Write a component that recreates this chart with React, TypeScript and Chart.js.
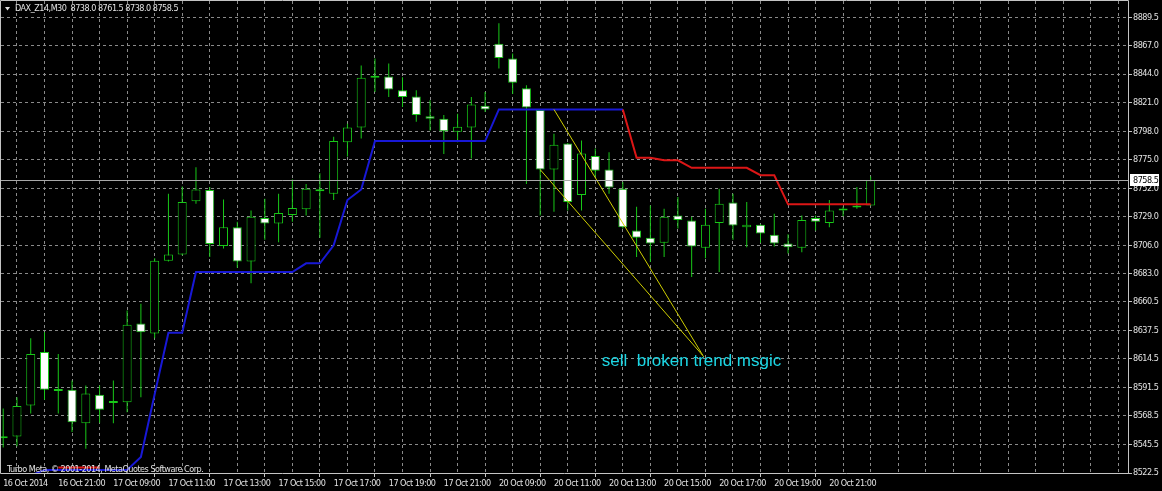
import React, { useEffect, useRef } from "react";
import { Chart, registerables } from "chart.js";

Chart.register(...registerables);

// ---------------- data ----------------
const symbolName = "DAX_Z14,M30";
const lastBarQuote = ["8738.0", "8761.5", "8738.0", "8758.5"];
const copyrightText = "Turbo Meta, © 2001-2014, MetaQuotes Software Corp.";
const noteText = "sell  broken trend msgic";

const opens = [
  8550.5, 8552, 8577, 8620, 8588.5, 8589.5, 8562.5, 8585.5, 8579, 8579.5,
  8643, 8635, 8693.5, 8698.5, 8741.5, 8750.5, 8705.5, 8720.5, 8693, 8728,
  8723.5, 8730.5, 8735, 8751, 8747.5, 8789, 8801, 8841, 8842, 8831,
  8826, 8810, 8808, 8797.5, 8801, 8818.5, 8868.5, 8856.5, 8832.5, 8815,
  8767, 8788, 8746.5, 8778, 8767, 8751.5, 8718, 8712, 8708, 8730,
  8726, 8704, 8724, 8740.5, 8720.5, 8722.5, 8714.5, 8707.5, 8704, 8728,
  8724, 8734, 8736.5, 8738,
];
const highs = [
  8574.5, 8583.5, 8631, 8636, 8618.5, 8597, 8593, 8593, 8597, 8653.5,
  8659, 8695.5, 8747.5, 8753.5, 8769, 8753, 8743, 8725, 8734, 8743.5,
  8747.5, 8759, 8755.5, 8764, 8793.5, 8804, 8851, 8856.5, 8852.5, 8841.5,
  8831, 8823, 8811, 8812, 8825.5, 8829.5, 8885, 8860.5, 8835, 8815.5,
  8796, 8788.5, 8790.5, 8784, 8781, 8757, 8737, 8738, 8735.5, 8745,
  8729, 8735.5, 8751.5, 8747.5, 8741, 8723, 8731.5, 8715, 8730, 8730,
  8742.5, 8737, 8753, 8761.5,
];
const lows = [
  8543, 8544, 8570.5, 8581.5, 8570.5, 8555.5, 8542, 8563, 8562.5, 8571.5,
  8583.5, 8631, 8693, 8698, 8739.5, 8696.5, 8703.5, 8688, 8675.5, 8710.5,
  8708.5, 8725, 8730, 8712, 8742.5, 8777.5, 8792, 8829.5, 8825.5, 8817.5,
  8805.5, 8798.5, 8779.5, 8789, 8776, 8813.5, 8848.5, 8828, 8755.5, 8730,
  8733, 8734, 8734, 8761, 8747.5, 8719.5, 8696.5, 8692.5, 8696.5, 8719.5,
  8680.5, 8695.5, 8684.5, 8710.5, 8704.5, 8708, 8705, 8699.5, 8700.5, 8718,
  8720.5, 8729.5, 8735.5, 8738,
];
const closes = [
  8552, 8576.5, 8618.5, 8589.5, 8589, 8563.5, 8586.5, 8573.5, 8579.5, 8642,
  8636, 8693.5, 8698.5, 8741, 8751, 8707, 8720.5, 8693, 8729, 8723.5,
  8732, 8736, 8751.5, 8749.5, 8790, 8801, 8841, 8841.5, 8831.5, 8825.5,
  8811, 8808, 8798, 8801.5, 8819.5, 8815.5, 8857, 8837, 8817, 8767,
  8787, 8741, 8780, 8766, 8752.5, 8720.5, 8712, 8707.5, 8729, 8726.5,
  8705, 8722.5, 8739.5, 8722, 8722.5, 8715.5, 8707.5, 8704.5, 8726.5, 8725,
  8734, 8735.5, 8738, 8758.5,
];

// trailing-stop indicator: support (blue) and resistance (red) buffers
const supportLine = [
  null, null, 8520.5, 8525, 8525, 8525, 8525, 8525, 8525, 8525,
  8535.5, 8586, 8635.5, 8635.5, 8684.5, 8684.5, 8684.5, 8684.5, 8684.5, 8684.5,
  8684.5, 8684.5, 8691.5, 8691.5, 8706, 8742.5, 8751, 8790, 8790, 8790,
  8790, 8790, 8790, 8790, 8790, 8790, 8815.5, 8815.5, 8815.5, 8815.5,
  8815.5, 8815.5, 8815.5, 8815.5, 8815.5, 8815.5, null, null, null, null,
  null, null, null, null, null, null, null, null, null, null,
  null, null, null, null,
];
const resistanceLine = [
  null, null, null, null, 8527, 8527, 8527, 8527, null, null,
  null, null, null, null, null, null, null, null, null, null,
  null, null, null, null, null, null, null, null, null, null,
  null, null, null, null, null, null, null, null, null, null,
  null, null, null, null, null, 8815.5, 8776.5, 8776.5, 8774.5, 8774.5,
  8768.5, 8768.5, 8768.5, 8768.5, 8768.5, 8762.5, 8762.5, 8739, 8739, 8739,
  8739, 8739, 8739, 8739,
];

const xLabels = [
  "16 Oct 2014", "16 Oct 21:00", "17 Oct 09:00", "17 Oct 11:00", "17 Oct 13:00",
  "17 Oct 15:00", "17 Oct 17:00", "17 Oct 19:00", "17 Oct 21:00", "20 Oct 09:00",
  "20 Oct 11:00", "20 Oct 13:00", "20 Oct 15:00", "20 Oct 17:00", "20 Oct 19:00",
  "20 Oct 21:00",
];
const barsPerLabel = 4;
const barsPerGrid = 2;

const yTickValues = [
  8522.5, 8545.5, 8568.5, 8591.5, 8614.5, 8637.5, 8660.5, 8683.0, 8706.0,
  8729.0, 8752.0, 8775.0, 8798.0, 8821.0, 8844.0, 8867.0, 8889.5,
];
const lastPrice = 8758.5;

// hand-drawn trend lines (bar index, price)
const trendLineA = [
  { x: 40, y: 8815.5 },
  { x: 50.8, y: 8617.5 },
];
const trendLineB = [
  { x: 39, y: 8767 },
  { x: 50.9, y: 8616 },
];
const noteAnchor = { x: 43.47, y: 8608.5 };

// ---------------- styles ----------------
const FONT = "'DejaVu Sans Condensed', 'Liberation Sans', sans-serif";
const SMALL_SPACING = "-0.5px";
const GREEN = "#18c818";
const GRID = "#8a8a8a";
const AXIS = "#c4c4c4";
const TEXT = "#e2e2e2";

const spacingPlugin = {
  id: "spacing",
  beforeDraw(chart: any) {
    const ctx: any = chart.ctx;
    if ("letterSpacing" in ctx) ctx.letterSpacing = SMALL_SPACING;
  },
};

const decorPlugin = {
  id: "decor",
  afterDraw(chart: any) {
    const { chartArea: a, scales } = chart;
    const ctx: any = chart.ctx;
    const xs = scales.x;
    const ys = scales.y;
    ctx.save();
    if ("letterSpacing" in ctx) ctx.letterSpacing = SMALL_SPACING;

    // current price line
    const py = Math.round(ys.getPixelForValue(lastPrice)) + 0.5;
    ctx.strokeStyle = "#a8a8a8";
    ctx.lineWidth = 1;
    ctx.beginPath();
    ctx.moveTo(a.left, py);
    ctx.lineTo(a.right, py);
    ctx.stroke();

    // frame
    ctx.strokeStyle = AXIS;
    ctx.beginPath();
    ctx.moveTo(a.left - 0.5, a.top - 0.5);
    ctx.lineTo(a.right + 0.5, a.top - 0.5);
    ctx.lineTo(a.right + 0.5, a.bottom + 0.5);
    ctx.lineTo(a.left - 0.5, a.bottom + 0.5);
    ctx.closePath();
    ctx.stroke();

    // price label box
    ctx.fillStyle = "#ffffff";
    ctx.fillRect(a.right + 2, py - 6.5, 29, 12);
    ctx.fillStyle = "#000000";
    ctx.font = `9px ${FONT}`;
    ctx.textBaseline = "middle";
    ctx.textAlign = "left";
    ctx.fillText(lastPrice.toFixed(1), a.right + 5, py);

    // header
    ctx.fillStyle = TEXT;
    ctx.beginPath();
    ctx.moveTo(5, 7);
    ctx.lineTo(10, 7);
    ctx.lineTo(7.5, 10.5);
    ctx.closePath();
    ctx.fill();
    ctx.font = `9px ${FONT}`;
    ctx.textBaseline = "middle";
    ctx.fillText(`${symbolName}  ${lastBarQuote.join(" ")}`, 15, 9);

    // footer
    ctx.textBaseline = "alphabetic";
    ctx.fillText(copyrightText, 7, a.bottom - 1);

    // annotation
    if ("letterSpacing" in ctx) ctx.letterSpacing = "0px";
    ctx.fillStyle = "#1cd6e4";
    ctx.font = "17px 'Liberation Sans', Arial, sans-serif";
    ctx.fillText(noteText, xs.getPixelForValue(noteAnchor.x), ys.getPixelForValue(noteAnchor.y));

    ctx.restore();
  },
};

export default function App() {
  const canvasRef = useRef<HTMLCanvasElement | null>(null);

  useEffect(() => {
    const canvas = canvasRef.current;
    if (!canvas) return;

    const wickData = opens.map((_, i) => ({ x: i, y: [lows[i], highs[i]] }));
    const bodyData = opens.map((o, i) => ({ x: i, y: [o, closes[i]] }));
    const bodyFill = opens.map((o, i) => (closes[i] >= o ? "#000000" : "#ffffff"));
    const supportData = supportLine.map((v, i) => ({ x: i, y: v }));
    const resistanceData = resistanceLine.map((v, i) => ({ x: i, y: v }));

    const lastGridBar = 80;
    const gridBars: number[] = [];
    for (let b = 0; b <= lastGridBar; b += barsPerGrid) gridBars.push(b);

    const isLabelled = (v: number) =>
      v % barsPerLabel === 0 && v / barsPerLabel < xLabels.length;

    const chart = new Chart(canvas, {
      type: "line",
      data: {
        datasets: [
          {
            type: "line",
            data: trendLineA as any,
            borderColor: "#cfcf00",
            borderWidth: 1,
            pointRadius: 0,
            order: 0,
          },
          {
            type: "line",
            data: trendLineB as any,
            borderColor: "#cfcf00",
            borderWidth: 1,
            pointRadius: 0,
            order: 0,
          },
          {
            type: "line",
            data: resistanceData as any,
            borderColor: "#dc1616",
            borderWidth: 2,
            pointRadius: 0,
            order: 0.1,
          },
          {
            type: "line",
            data: supportData as any,
            borderColor: "#1818d6",
            borderWidth: 2,
            pointRadius: 0,
            order: 0.2,
          },
          {
            type: "bar",
            data: bodyData as any,
            backgroundColor: bodyFill,
            borderColor: GREEN,
            borderWidth: 1,
            borderSkipped: false,
            barThickness: 9,
            minBarLength: 2,
            grouped: false,
            inflateAmount: 0,
            order: 1,
          } as any,
          {
            type: "bar",
            data: wickData as any,
            backgroundColor: GREEN,
            borderWidth: 0,
            barThickness: 1,
            grouped: false,
            inflateAmount: 0,
            order: 2,
          } as any,
        ],
      },
      options: {
        animation: false,
        responsive: false,
        maintainAspectRatio: false,
        layout: { padding: { left: 1, top: 1, right: 0, bottom: 0 } },
        plugins: {
          legend: { display: false },
          tooltip: { enabled: false },
          title: { display: false },
        },
        scales: {
          x: {
            type: "linear",
            min: -0.16,
            max: 81.69,
            offset: false,
            afterBuildTicks: (s: any) => {
              s.ticks = gridBars.map((v) => ({ value: v }));
            },
            afterFit: (s: any) => {
              s.height = 18;
              s.paddingLeft = 0;
              s.paddingRight = 0;
            },
            grid: {
              color: GRID,
              lineWidth: 1,
              drawTicks: true,
              tickLength: 4,
              tickBorderDash: [],
              tickColor: (c: any) =>
                c.tick && isLabelled(c.tick.value) ? AXIS : "rgba(0,0,0,0)",
            },
            border: { display: false, dash: [3, 3] },
            ticks: {
              autoSkip: false,
              maxRotation: 0,
              minRotation: 0,
              align: "start",
              padding: 1,
              color: TEXT,
              font: { family: FONT, size: 9 },
              callback: (v: any) => (isLabelled(Number(v)) ? xLabels[Number(v) / barsPerLabel] : ""),
            },
          },
          y: {
            type: "linear",
            position: "right",
            min: 8522.5,
            max: 8902.9,
            afterBuildTicks: (s: any) => {
              s.ticks = yTickValues.map((v) => ({ value: v }));
            },
            afterFit: (s: any) => {
              s.width = 34;
              s.paddingTop = 0;
              s.paddingBottom = 0;
            },
            grid: {
              color: GRID,
              lineWidth: 1,
              drawTicks: true,
              tickLength: 4,
              tickBorderDash: [],
              tickColor: AXIS,
            },
            border: { display: false, dash: [3, 3] },
            ticks: {
              autoSkip: false,
              padding: 1,
              color: TEXT,
              font: { family: FONT, size: 9 },
              callback: (v: any) => Number(v).toFixed(1),
            },
          },
        },
      },
      plugins: [spacingPlugin, decorPlugin],
    } as any);

    return () => chart.destroy();
  }, []);

  return (
    <div
      style={{
        position: "fixed",
        left: 0,
        top: 0,
        width: 1162,
        height: 491,
        background: "#000000",
      }}
    >
      <canvas ref={canvasRef} width={1162} height={491} style={{ display: "block" }} />
    </div>
  );
}
